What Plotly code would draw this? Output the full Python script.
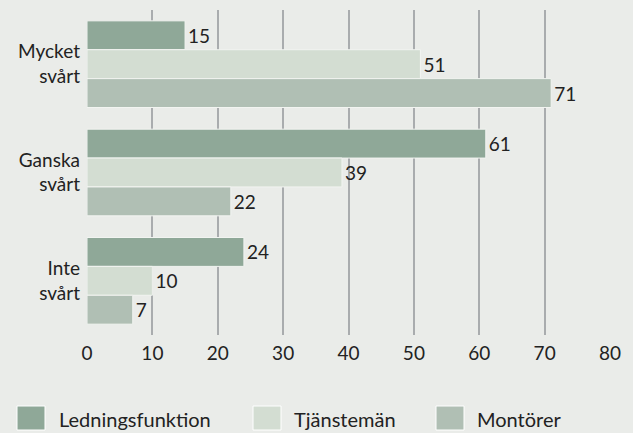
import plotly.graph_objects as go

categories = ["Mycket<br>svårt", "Ganska<br>svårt", "Inte<br>svårt"]
series_names = ["Ledningsfunktion", "Tjänstemän", "Montörer"]
ledning = [15, 61, 24]
tjansteman = [51, 39, 10]
montorer = [71, 22, 7]
x_ticks = [0, 10, 20, 30, 40, 50, 60, 70, 80]
colors = ["#8fa898", "#d3ddd2", "#b0bfb4"]

BG = "#eaece9"
FONT = "Lato"
W, H = 633, 433
ML, MR, MT, MB = 87, 23, 10, 98

fig = go.Figure()
for name, vals, col in zip(series_names, [ledning, tjansteman, montorer], colors):
    fig.add_trace(go.Bar(
        y=categories, x=vals, name=name, orientation="h",
        marker=dict(color=col, line=dict(color="#f2f4f1", width=1)),
        text=[str(v) for v in vals], textposition="outside",
        textfont=dict(size=19, color="#222222", family=FONT),
        cliponaxis=False, showlegend=False, hoverinfo="skip",
    ))

pw = W - ML - MR
ph = H - MT - MB
def px(x):
    return (x - ML) / pw
def py(y):
    return (H - MB - y) / ph

shapes = []
annotations = []
legend_items = [(17, 57), (253, 292), (436, 475)]
for (sx, tx), name, col in zip(legend_items, series_names, colors):
    shapes.append(dict(type="rect", xref="paper", yref="paper",
                       x0=px(sx), x1=px(sx + 28), y0=py(430), y1=py(406),
                       fillcolor=col, line=dict(color="#ffffff", width=1)))
    annotations.append(dict(xref="paper", yref="paper", x=px(tx), y=py(419),
                            text=name, showarrow=False, xanchor="left", yanchor="middle",
                            font=dict(size=20, color="#222222", family=FONT)))

fig.update_layout(
    width=W, height=H,
    margin=dict(l=ML, r=MR, t=MT, b=MB),
    paper_bgcolor=BG, plot_bgcolor=BG,
    barmode="group", bargap=0.2, bargroupgap=0,
    font=dict(family=FONT, size=19, color="#222222"),
    xaxis=dict(range=[0, 80], tickvals=x_ticks, showgrid=True, gridcolor="#a9acae",
               gridwidth=1.5, zeroline=False, showline=False, ticks="",
               tickfont=dict(size=19, color="#222222"), ticklabelstandoff=5),
    yaxis=dict(autorange="reversed", showgrid=False, zeroline=False, showline=False,
               ticks="", tickfont=dict(size=19, color="#222222"), ticklabelstandoff=6),
    shapes=shapes, annotations=annotations,
)

fig.write_html("out.html", config={"displayModeBar": False},
               post_script="document.body.style.margin='0px';")
